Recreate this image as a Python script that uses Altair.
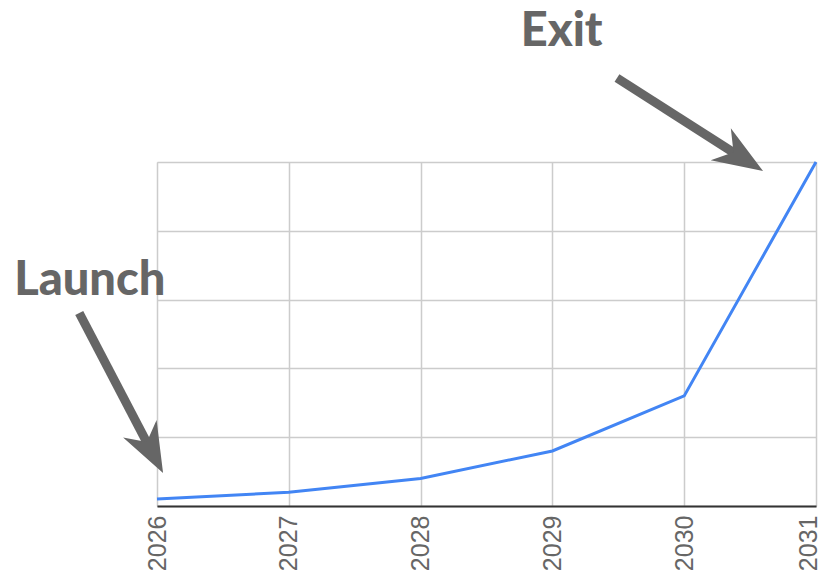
import altair as alt
import pandas as pd

# Series
years = [2026, 2027, 2028, 2029, 2030, 2031]
values = [2, 4, 8, 16, 32, 100]

# Annotation labels (data coordinates)
label_text = ["Exit", "Launch"]
label_x = [2029.07, 2025.49]
label_y = [137.8, 65.4]

# Arrows: tail -> shaft end, and head tip with direction angle
arrow_tail_x = [2029.49, 2025.41]
arrow_tail_y = [124.4, 56.1]
arrow_end_x = [2030.405, 2025.939]
arrow_end_y = [102.0, 17.3]
arrow_tip_x = [2030.598, 2026.046]
arrow_tip_y = [97.4, 9.6]
arrow_angle = [122.2, 152.3]

line_df = pd.DataFrame({"year": years, "value": values})
lab_df = pd.DataFrame({"text": label_text, "x": label_x, "y": label_y})
arr_df = pd.DataFrame({
    "x": arrow_tail_x, "y": arrow_tail_y,
    "x2": arrow_end_x, "y2": arrow_end_y,
    "tx": arrow_tip_x, "ty": arrow_tip_y, "angle": arrow_angle,
})

xscale = alt.Scale(domain=[2026, 2031], nice=False, zero=False)
yscale = alt.Scale(domain=[0, 100], nice=False)

line = alt.Chart(line_df).mark_line(color="#4285F4", strokeWidth=3).encode(
    x=alt.X("year:Q", scale=xscale, title=None,
            axis=alt.Axis(values=years, format="d", labelAngle=-90, labelAlign="right",
                          labelBaseline={"expr": "datum.value == 2031 ? 'alphabetic' : 'middle'"},
                          labelFontSize=25, labelColor="#666666",
                          labelFont="Liberation Sans", labelPadding=9, ticks=False,
                          domainColor="#333333", domainWidth=2, grid=True, gridColor="#cccccc",
                          gridWidth=1.5, labelFlush=False, labelOverlap=False)),
    y=alt.Y("value:Q", scale=yscale, title=None,
            axis=alt.Axis(values=[0, 20, 40, 60, 80, 100], labels=False, ticks=False, domain=False,
                          grid=True, gridColor="#cccccc", gridWidth=1.5)),
)

shafts = alt.Chart(arr_df).mark_rule(color="#666666", strokeWidth=9, strokeCap="butt").encode(
    x=alt.X("x:Q", scale=xscale), y=alt.Y("y:Q", scale=yscale),
    x2="x2:Q", y2="y2:Q",
)

heads = alt.Chart(arr_df).mark_point(
    shape="M0,0 L0.84,2.22 L0,1.55 L-0.84,2.22 Z", filled=True, color="#666666",
    size=2025, opacity=1, strokeWidth=0,
).encode(
    x=alt.X("tx:Q", scale=xscale), y=alt.Y("ty:Q", scale=yscale),
    angle=alt.Angle("angle:Q", scale=None),
)

labels = alt.Chart(lab_df).mark_text(
    font="Lato", fontWeight=900, fontSize=47, color="#666666",
    align="center", baseline="middle",
).encode(
    x=alt.X("x:Q", scale=xscale), y=alt.Y("y:Q", scale=yscale), text="text:N",
)

chart = alt.layer(line, shafts, heads, labels).properties(
    width=659, height=344,
    autosize=alt.AutoSizeParams(type="none"),
    padding={"left": 157, "top": 162, "right": 9, "bottom": 70},
).configure_view(strokeWidth=0).configure(background="white")

chart.save("out.html", embed_options={"renderer": "svg", "actions": False})
